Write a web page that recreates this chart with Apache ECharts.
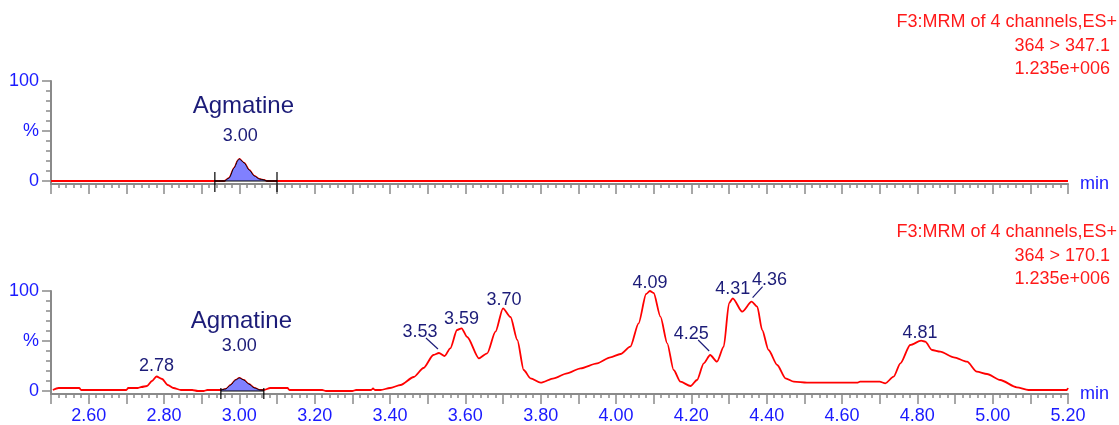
<!DOCTYPE html>
<html>
<head>
<meta charset="utf-8">
<title>Agmatine MRM chromatogram</title>
<script src="https://cdn.jsdelivr.net/npm/echarts@6/dist/echarts.min.js"></script>
<style>
  html, body { margin: 0; padding: 0; background: #ffffff; }
  #chart { width: 1119px; height: 425px; }
</style>
</head>
<body>
<div id="chart"></div>
<script>
// ---- data ---------------------------------------------------------------
// Channel 1: 364 > 347.1 (relative intensity, %)
const timeA   = [2.50, 2.935, 2.96, 2.973, 2.986, 2.997, 3.00, 3.013, 3.026, 3.04, 3.053, 3.066, 3.073, 3.10, 5.20];
const signalA = [0,    0,     0,    3,     13,    21,    22,   18,    11,    5,    2,     1,     0,     0,    0];

// Channel 2: 364 > 170.1 (relative intensity, %)
const timeB = [
  2.505, 2.52, 2.575, 2.58, 2.70, 2.705, 2.73, 2.74, 2.755, 2.768, 2.78, 2.795, 2.81, 2.825, 2.845,
  2.875, 2.89, 2.905, 2.915, 2.951, 2.964, 2.977, 2.99, 3.00, 3.012, 3.025, 3.04, 3.055, 3.065,
  3.082, 3.128, 3.133, 3.22, 3.23, 3.30, 3.31, 3.35, 3.355, 3.36, 3.375, 3.40, 3.428, 3.463, 3.489,
  3.515, 3.53, 3.545, 3.56, 3.578, 3.59, 3.605, 3.636, 3.658, 3.68, 3.70, 3.72, 3.738, 3.755, 3.773,
  3.80, 3.835, 3.87, 3.906, 3.95, 3.985, 4.012, 4.038, 4.06, 4.08, 4.09, 4.10, 4.118, 4.136, 4.153,
  4.171, 4.198, 4.215, 4.233, 4.25, 4.268, 4.286, 4.30, 4.31, 4.335, 4.36, 4.375, 4.388, 4.405,
  4.428, 4.45, 4.472, 4.507, 4.64, 4.648, 4.70, 4.715, 4.737, 4.755, 4.781, 4.81, 4.821, 4.839,
  4.861, 4.897, 4.932, 4.958, 4.985, 5.02, 5.064, 5.095, 5.197, 5.20
];
const signalB = [
  1, 3, 3, 1, 1, 3, 3, 4, 5, 10, 14.5, 12, 6, 3, 1,
  1, 0, 0, 1, 1, 2, 6, 11, 13, 11, 7, 3, 1, 1,
  3, 3, 1, 1, 0, 0, 1, 1, 2.5, 1, 1, 3, 6, 14, 23,
  36, 38, 35, 42.7, 61, 62.7, 54, 32.7, 37.7, 59.3, 82.7, 74, 51, 21, 12.7,
  8.3, 12.7, 17.7, 22.7, 27.7, 33.7, 37, 44.3, 67.7, 97, 100, 98, 74.3, 47.7, 21,
  9.3, 5, 11, 27.7, 36, 29.3, 44.3, 87.7, 92.7, 79.3, 89.3, 84.3, 61, 41,
  26, 12.7, 9.3, 8.3, 8.3, 9.3, 9.3, 7.7, 14.3, 27.7, 46, 50.3, 49.3, 41,
  39.3, 33.7, 29.3, 19.3, 17, 11, 3.7, 1, 1, 3
];

// Labelled retention times
const peaksA = [3.00];
const peaksB = [2.78, 3.00, 3.53, 3.59, 3.70, 4.09, 4.25, 4.31, 4.36, 4.81];

// Integrated compound peak
const compoundName = 'Agmatine';
const compoundRT = 3.00;
const integrationA = [2.935, 3.10];
const integrationB = [2.951, 3.065];

// Channel headers
const headerA = ['F3:MRM of 4 channels,ES+', '364 > 347.1', '1.235e+006'];
const headerB = ['F3:MRM of 4 channels,ES+', '364 > 170.1', '1.235e+006'];

// Axis ticks
const yMajor = [0, 50, 100];
const yMinor = [10, 20, 30, 40, 60, 70, 80, 90];

// ---- styling ------------------------------------------------------------
const FONT = '"Liberation Sans", Arial, Helvetica, sans-serif';
const AXIS_GREY = '#8a8a8a';
const AXIS_BLUE = '#1a1aff';
const NAVY = '#1c1c78';
const TRACE_RED = '#ff0000';
const FILL_BLUE = '#8080ff';
const SMOOTH = 0.25;

const panels = [
  { top: 81,  height: 103 },
  { top: 291, height: 103 }
];

// Label offsets (px) relative to the apex; optional leader line [x1,y1,x2,y2]
const labelLayoutA = {
  '3.00': { dx: 1, dy: -23 }
};
const labelLayoutB = {
  '2.78': { dx: 0, dy: -10 },
  '3.00': { dx: 0, dy: -32 },
  '3.53': { dx: -19, dy: -21, lead: [-13, -15, -1, -4] },
  '3.59': { dx: 0, dy: -9 },
  '3.70': { dx: 1, dy: -8 },
  '4.09': { dx: 0, dy: -8 },
  '4.25': { dx: -19, dy: -21, lead: [-12, -15, -1, -4] },
  '4.31': { dx: 0, dy: -9 },
  '4.36': { dx: 18, dy: -22, lead: [11, -15, 1, -4] },
  '4.81': { dx: -1, dy: -8 }
};
const compoundOffsetA = { dx: 4, dy: -53 };
const compoundOffsetB = { dx: 2, dy: -57 };
const integrationTickA = { up: 9, down: 11 };
const integrationTickB = { up: 3, down: 8 };

// ---- helpers ------------------------------------------------------------
const pairs = (ts, vs) => ts.map((t, i) => [t, vs[i]]);
const valueAt = (ts, vs, t) => vs[ts.findIndex(x => Math.abs(x - t) < 1e-9)];

function xAxisFor(gridIndex, showLabels) {
  return {
    type: 'value', gridIndex, min: 2.5, max: 5.2, interval: 0.1,
    name: 'min', nameLocation: 'end', nameGap: 12,
    nameTextStyle: { color: AXIS_BLUE, fontSize: 18, fontFamily: FONT, verticalAlign: 'middle', padding: [4, 0, 0, 0] },
    axisLine: { show: true, onZero: false, lineStyle: { color: AXIS_GREY, width: 2 } },
    axisTick: { show: true, length: 10, lineStyle: { color: AXIS_GREY, width: 1.5 } },
    minorTick: { show: true, splitNumber: 5, length: 4, lineStyle: { color: AXIS_GREY, width: 1.5 } },
    splitLine: { show: false },
    minorSplitLine: { show: false },
    axisLabel: {
      show: showLabels, margin: 13, color: AXIS_BLUE, fontSize: 18, fontFamily: FONT,
      showMinLabel: true, showMaxLabel: true,
      formatter: v => (Math.round(v * 10) % 2 === 0 ? v.toFixed(2) : '')
    }
  };
}

function yAxesFor(gridIndex) {
  return [
    {
      type: 'value', gridIndex, min: -3, max: 100, position: 'left',
      axisLine: { show: true, lineStyle: { color: AXIS_GREY, width: 2 } },
      axisTick: { show: true, length: 9, customValues: yMajor, lineStyle: { color: AXIS_GREY, width: 1.5 } },
      axisLabel: {
        show: true, margin: 12, customValues: yMajor, color: AXIS_BLUE, fontSize: 18, fontFamily: FONT,
        padding: [4, 0, 0, 0],
        formatter: v => (v === 50 ? '%' : String(v))
      },
      splitLine: { show: false }
    },
    {
      type: 'value', gridIndex, min: -3, max: 100, position: 'left',
      axisLine: { show: false },
      axisTick: { show: true, length: 5, customValues: yMinor, lineStyle: { color: AXIS_GREY, width: 1.5 } },
      axisLabel: { show: false },
      splitLine: { show: false }
    }
  ];
}

function traceSeries(xi, yi, ts, vs) {
  return {
    type: 'line', xAxisIndex: xi, yAxisIndex: yi, data: pairs(ts, vs),
    symbol: 'none', smooth: SMOOTH, smoothMonotone: 'x',
    lineStyle: { color: TRACE_RED, width: 1.8 }, z: 3, silent: true
  };
}

function integratedSeries(xi, yi, ts, vs, win) {
  const data = pairs(ts, vs).filter(d => d[0] >= win[0] - 1e-9 && d[0] <= win[1] + 1e-9);
  return {
    type: 'line', xAxisIndex: xi, yAxisIndex: yi, data,
    symbol: 'none', smooth: SMOOTH, smoothMonotone: 'x',
    lineStyle: { color: '#000000', width: 1 },
    areaStyle: { color: FILL_BLUE, opacity: 1, origin: 0 }, z: 4, silent: true
  };
}

function integrationMarks(xi, yi, win, tick) {
  return {
    type: 'custom', xAxisIndex: xi, yAxisIndex: yi, data: [[win[0], win[1]]],
    encode: { x: [0, 1] }, z: 5, silent: true,
    renderItem(params, api) {
      const a = api.coord([api.value(0), 0]);
      const b = api.coord([api.value(1), 0]);
      const s = { stroke: '#000000', lineWidth: 1.2 };
      return {
        type: 'group',
        children: [
          { type: 'line', shape: { x1: a[0], y1: a[1], x2: b[0], y2: b[1] }, style: s },
          { type: 'line', shape: { x1: a[0], y1: a[1] - tick.up, x2: a[0], y2: a[1] + tick.down }, style: s },
          { type: 'line', shape: { x1: b[0], y1: b[1] - tick.up, x2: b[0], y2: b[1] + tick.down }, style: s }
        ]
      };
    }
  };
}

function peakLabelSeries(xi, yi, ts, vs, rts, layout, compoundOffset) {
  const data = rts.map(rt => [rt, valueAt(ts, vs, rt)]);
  return {
    type: 'custom', xAxisIndex: xi, yAxisIndex: yi, data, z: 6, silent: true, clip: false,
    renderItem(params, api) {
      const rt = rts[params.dataIndex];
      const key = rt.toFixed(2);
      const p = api.coord([api.value(0), api.value(1)]);
      const o = layout[key] || { dx: 0, dy: -9 };
      const children = [{
        type: 'text',
        x: p[0] + o.dx, y: p[1] + o.dy,
        style: { text: key, fill: NAVY, font: '18px ' + FONT, align: 'center', verticalAlign: 'middle' }
      }];
      if (o.lead) {
        children.push({
          type: 'line',
          shape: { x1: p[0] + o.lead[0], y1: p[1] + o.lead[1], x2: p[0] + o.lead[2], y2: p[1] + o.lead[3] },
          style: { stroke: NAVY, lineWidth: 1.2 }
        });
      }
      if (Math.abs(rt - compoundRT) < 1e-9) {
        children.push({
          type: 'text',
          x: p[0] + compoundOffset.dx, y: p[1] + compoundOffset.dy,
          style: { text: compoundName, fill: NAVY, font: '24px ' + FONT, align: 'center', verticalAlign: 'middle' }
        });
      }
      return { type: 'group', children };
    }
  };
}

function headerGraphics(lines, top) {
  const rights = [1117, 1110, 1110];
  return lines.map((txt, i) => ({
    type: 'text',
    x: rights[i], y: top + i * 23.5,
    style: { text: txt, fill: '#ff1a1a', font: '18px ' + FONT, align: 'right', verticalAlign: 'middle' }
  }));
}

// ---- chart --------------------------------------------------------------
const chart = echarts.init(document.getElementById('chart'), null, { renderer: 'canvas' });

chart.setOption({
  animation: false,
  backgroundColor: '#ffffff',
  grid: panels.map(p => ({ left: 51, right: 51, top: p.top, height: p.height, containLabel: false })),
  xAxis: [xAxisFor(0, false), xAxisFor(1, true)],
  yAxis: [...yAxesFor(0), ...yAxesFor(1)],
  series: [
    traceSeries(0, 0, timeA, signalA),
    integratedSeries(0, 0, timeA, signalA, integrationA),
    integrationMarks(0, 0, integrationA, integrationTickA),
    peakLabelSeries(0, 0, timeA, signalA, peaksA, labelLayoutA, compoundOffsetA),

    traceSeries(1, 2, timeB, signalB),
    integratedSeries(1, 2, timeB, signalB, integrationB),
    integrationMarks(1, 2, integrationB, integrationTickB),
    peakLabelSeries(1, 2, timeB, signalB, peaksB, labelLayoutB, compoundOffsetB)
  ],
  graphic: [...headerGraphics(headerA, 22.5), ...headerGraphics(headerB, 232.5)]
});
</script>
</body>
</html>
